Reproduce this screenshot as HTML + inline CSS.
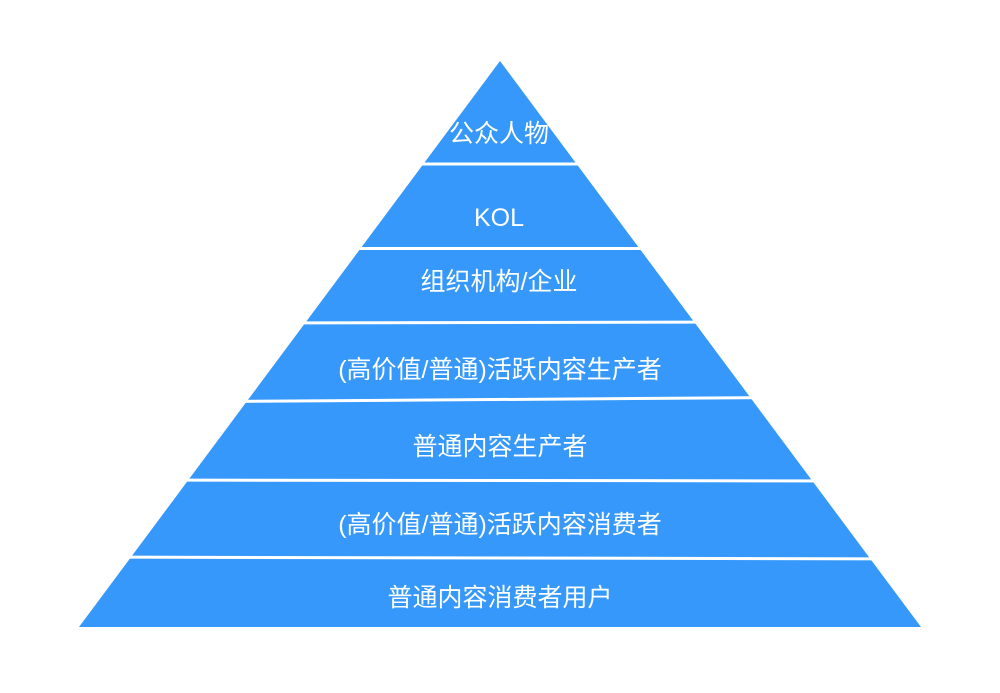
<!DOCTYPE html>
<html><head><meta charset="utf-8"><style>
html,body{margin:0;padding:0;background:#fff;}
body{width:1000px;height:693px;position:relative;overflow:hidden;}
svg{position:absolute;left:0;top:0;}
</style></head><body>
<svg width="1000" height="693" viewBox="0 0 1000 693">
<polygon points="500,61 921,627 79,627" fill="#3598fa"/>
<g stroke="#fff" stroke-width="3">
<line x1="300" y1="164" x2="700" y2="164"/>
<line x1="300" y1="248.5" x2="700" y2="248.5"/>
<line x1="250" y1="323" x2="750" y2="322"/>
<line x1="150" y1="402" x2="850" y2="397"/>
<line x1="100" y1="480" x2="900" y2="481"/>
<line x1="50" y1="557" x2="950" y2="559"/>
</g>
<g fill="#fff" font-family="'Liberation Sans','Noto Sans CJK SC',sans-serif" font-size="25" text-anchor="middle">
<text x="499" y="142">公众人物</text>
<text x="499" y="226">KOL</text>
<text x="499" y="290">组织机构/企业</text>
<text x="500" y="378">(高价值/普通)活跃内容生产者</text>
<text x="500" y="455">普通内容生产者</text>
<text x="500" y="533">(高价值/普通)活跃内容消费者</text>
<text x="500" y="606">普通内容消费者用户</text>
</g>
</svg>
</body></html>
